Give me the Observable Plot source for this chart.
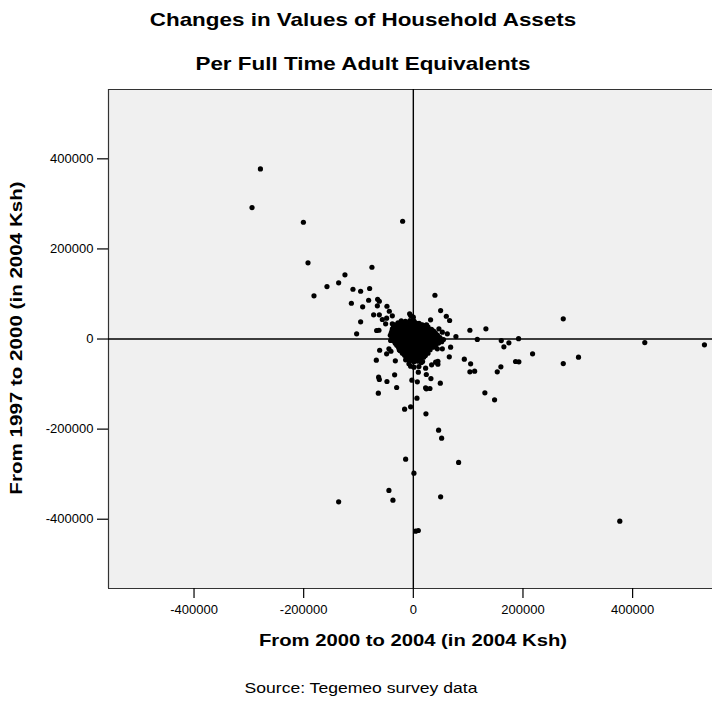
<!DOCTYPE html>
<html>
<head>
<meta charset="utf-8">
<script src="https://cdn.jsdelivr.net/npm/d3@7"></script>
<script src="https://cdn.jsdelivr.net/npm/@observablehq/plot@0.6"></script>
<style>
  html, body { margin: 0; padding: 0; background: #ffffff; }
  #wrap { position: relative; width: 712px; height: 702px; overflow: hidden; font-family: "Liberation Sans", Arial, sans-serif; color: #000; }
  #wrap svg { position: absolute; left: 0; top: 0; }
  .txt { position: absolute; white-space: nowrap; text-align: center; }
  .title { font-weight: bold; font-size: 19px; line-height: 22px; left: 0; width: 726px; transform: scaleX(1.18); }
  .xlab { font-weight: bold; font-size: 17px; line-height: 20px; left: 0; width: 826px; transform: scaleX(1.19); }
  .src { font-size: 15px; line-height: 16px; left: 0; width: 722px; transform: scaleX(1.17); }
  .ylab { font-weight: bold; font-size: 17px; line-height: 20px; width: 400px; left: -183px; top: 328px; transform: rotate(-90deg) scaleX(1.21); transform-origin: 200px 10px; }
</style>
</head>
<body>
<div id="wrap">
  <div class="txt title" style="top:9px">Changes in Values of Household Assets</div>
  <div class="txt title" style="top:53px">Per Full Time Adult Equivalents</div>
  <div class="txt xlab" style="top:631px">From 2000 to 2004 (in 2004 Ksh)</div>
  <div class="txt src" style="top:680px">Source: Tegemeo survey data</div>
  <div class="txt ylab">From 1997 to 2000 (in 2004 Ksh)</div>
</div>
<script>
// Tick values
const xTicks = [-400000, -200000, 0, 200000, 400000];
const yTicks = [-400000, -200000, 0, 200000, 400000];
const xDomain = [-556000, 545700];
const yDomain = [-553800, 553900];

// [change 2000->2004, change 1997->2000] for scattered households
const outliers = [
  [-278900, 377700], [-294200, 291800], [-200500, 259200], [-19500, 261400],
  [-192100, 169100], [-75500, 159300], [-124700, 142400], [-157500, 116500],
  [-136200, 124700], [-181200, 95900], [-110100, 110500], [-96100, 106100],
  [-79700, 112100], [-113000, 79400], [-92400, 71400], [-81500, 86100],
  [-65100, 88300], [-62000, 83900], [-65600, 73700], [-48100, 72800],
  [-43800, 61700], [-72400, 53700], [-62000, 53700], [-56500, 43300],
  [-48700, 46200], [-38300, 51500], [-96100, 38200], [-66900, 18900],
  [-62700, 19500], [-103400, 11500], [-6700, 55900], [-50500, 33700],
  [-38300, 33700],
  [39400, 97200], [49800, 63200], [60200, 50600], [66200, 41100],
  [31500, 42600], [273500, 44800], [103200, 19500], [132400, 22600],
  [77700, 5500], [24200, 31500], [16400, 31500], [7300, 33700],
  [0, 48400], [-4900, 52100], [46700, 22600], [62000, 11500], [52900, 15100],
  [116700, -1000], [192000, 800], [160400, -3500], [422200, -7800],
  [531000, -12900], [174300, -8400], [165200, -17300], [217500, -32900],
  [273500, -54400], [301300, -40400], [186500, -49900], [192500, -50600],
  [159700, -61700], [153100, -72800], [130500, -119400], [148200, -134900],
  [93000, -44800], [104500, -55000], [103200, -72800], [111800, -71400],
  [65600, -39500], [49200, -98100], [23000, -166000], [46100, -202400],
  [51600, -220100], [82600, -274000], [49800, -350200], [376600, -404300],
  [1100, -297800], [-14000, -266700], [-44500, -336200], [-37200, -357700],
  [4200, -426500], [9100, -425000], [6600, -131400], [-4900, -150500],
  [-15900, -155800], [23700, -110500], [30300, -109800], [22400, -108300],
  [7300, -95000], [-2600, -91400], [32100, -87700], [23700, -78800],
  [-34100, -79400], [-48100, -94300], [-30400, -107600], [-32800, -48400],
  [14600, -52100], [33400, -57300], [44800, -55900], [44800, -49300],
  [22400, -64800], [9100, -73700], [-48700, -32900], [-40800, -27100],
  [-25500, -24000], [-4900, -60400], [-136200, -361300], [-61400, -24900],
  [-44500, -21800], [-67500, -47000], [-63300, -84800], [-62000, -89900],
  [-63800, -120300], [-14000, -46200], [68000, -18200], [52900, -21700],
  [43800, -21700], [40700, -51500], [1100, -62600], [-8000, -55000],
  [-24400, -25500], [-41400, -3300], [10200, -61000]
];

// Dense core of households near zero change (rows read from the dark mass)
const clusterA = [
  [-22000, 40500], [-14500, 39200], [-6200, 41000], [1200, 39800],
  [-33500, 31200], [-25400, 30300], [-17100, 31800], [-9300, 30600], [-1800, 31500], [6100, 30200], [14300, 31000], [22500, 30100],
  [-38200, 22400], [-30100, 21300], [-22400, 22800], [-14100, 21600], [-6300, 22200], [2100, 21400], [9800, 22600], [18200, 21800], [26400, 22300], [33100, 21200],
  [-40300, 13200], [-32200, 12400], [-24100, 13800], [-15900, 12700], [-8200, 13300], [300, 12500], [8100, 13600], [16200, 12800], [24300, 13100], [32100, 12300], [40200, 13500],
  [-39100, 4300], [-31200, 3600], [-22800, 4700], [-15300, 3800], [-7100, 4200], [800, 3500], [9200, 4600], [17100, 3900], [25300, 4400], [33200, 3700], [41100, 4100], [48600, 3200],
  [-35200, -4600], [-27100, -5400], [-19300, -4800], [-11200, -5700], [-3100, -4400], [5200, -5300], [13100, -4700], [20800, -5600], [29200, -4900], [37100, -5200], [44800, -4500], [51700, -6100],
  [-30200, -13600], [-22100, -14500], [-13800, -13900], [-6100, -14700], [2200, -13800], [10100, -14400], [18300, -13700], [26200, -14600], [33800, -14100], [40900, -13500],
  [-25200, -22700], [-16900, -23400], [-9100, -22600], [-1200, -23600], [7100, -22900], [15200, -23300], [22800, -22500], [30600, -23800],
  [-19800, -31600], [-12100, -32500], [-3900, -31800], [4200, -32700], [11800, -31500], [19700, -32200], [26800, -31400],
  [-12800, -40600], [-4800, -41500], [3100, -40800], [11200, -41300], [18900, -40200],
  [-6800, -49500], [1100, -50400], [8800, -49200], [16900, -50100]
];

const clusterB = [
  [-28000, 35800], [-20000, 35100], [-12000, 36200], [-4000, 35300], [4000, 35900], [10500, 34800],
  [-36000, 26800], [-29000, 26100], [-21000, 27200], [-13000, 26300], [-5000, 26900], [3000, 26200], [11000, 27100], [19000, 26400], [27000, 26700],
  [-39000, 17800], [-34000, 17100], [-26000, 18000], [-18000, 17300], [-10000, 17900], [-2000, 17200], [6000, 18100], [14000, 17400], [22000, 17800], [30000, 17100], [37000, 17600],
  [-42000, 8200], [-36000, 8900], [-28000, 8300], [-20000, 8800], [-12000, 8100], [-4000, 8700], [4000, 8300], [12000, 8900], [20000, 8200], [28000, 8600], [36000, 8100], [44000, 8800],
  [-38000, -800], [-31000, -200], [-23000, -900], [-15000, -300], [-7000, -700], [1000, -100], [9000, -800], [17000, -300], [25000, -600], [33000, -200], [41000, -900], [49000, -400], [55000, -1200],
  [-33000, -9200], [-25000, -9900], [-17000, -9300], [-9000, -9800], [-1000, -9100], [7000, -9700], [15000, -9400], [23000, -9900], [31000, -9200], [39000, -9600], [46000, -9100],
  [-27000, -18200], [-19000, -18900], [-11000, -18300], [-3000, -18800], [5000, -18100], [13000, -18700], [21000, -18400], [29000, -18900], [36000, -18200],
  [-22000, -27100], [-14000, -27900], [-6000, -27300], [2000, -27800], [10000, -27200], [18000, -27600], [25000, -27900],
  [-16000, -36200], [-8000, -36900], [0, -36300], [8000, -36800], [16000, -36100], [22000, -36600],
  [-10000, -45200], [-2000, -45900], [6000, -45300], [13000, -45800]
];

const points = outliers.concat(clusterA, clusterB).map(([x, y]) => ({x, y}));

const fmt = d => String(d);

const chart = Plot.plot({
  width: 712,
  height: 702,
  marginTop: 89,
  marginBottom: 114,
  marginLeft: 108,
  marginRight: 0,
  style: { fontFamily: "'Liberation Sans', Arial, sans-serif", fontSize: "13px", color: "#000", background: "transparent" },
  x: { domain: xDomain, label: null },
  y: { domain: yDomain, label: null },
  marks: [
    Plot.frame({ fill: "#f0f0f0", stroke: null }),
    Plot.ruleY([yDomain[1]], { stroke: "#333", strokeWidth: 1.2 }),
    Plot.ruleY([yDomain[0]], { stroke: "#333", strokeWidth: 1.2 }),
    Plot.ruleX([xDomain[0]], { stroke: "#333", strokeWidth: 1.2 }),
    Plot.ruleX([0], { stroke: "#000", strokeWidth: 1.4 }),
    Plot.ruleY([0], { stroke: "#000", strokeWidth: 1.4 }),
    Plot.dot(points, { x: "x", y: "y", r: 2.6, fill: "#000", stroke: null }),
    Plot.axisX({ ticks: xTicks, tickFormat: fmt, tickSize: 10, tickPadding: 6, fontSize: 13, stroke: "#000", strokeWidth: 1.2, label: null }),
    Plot.axisY({ ticks: yTicks, tickFormat: fmt, tickSize: 11, tickPadding: 4, fontSize: 13, stroke: "#000", strokeWidth: 1.2, label: null })
  ]
});

document.getElementById("wrap").prepend(chart);
</script>
</body>
</html>
